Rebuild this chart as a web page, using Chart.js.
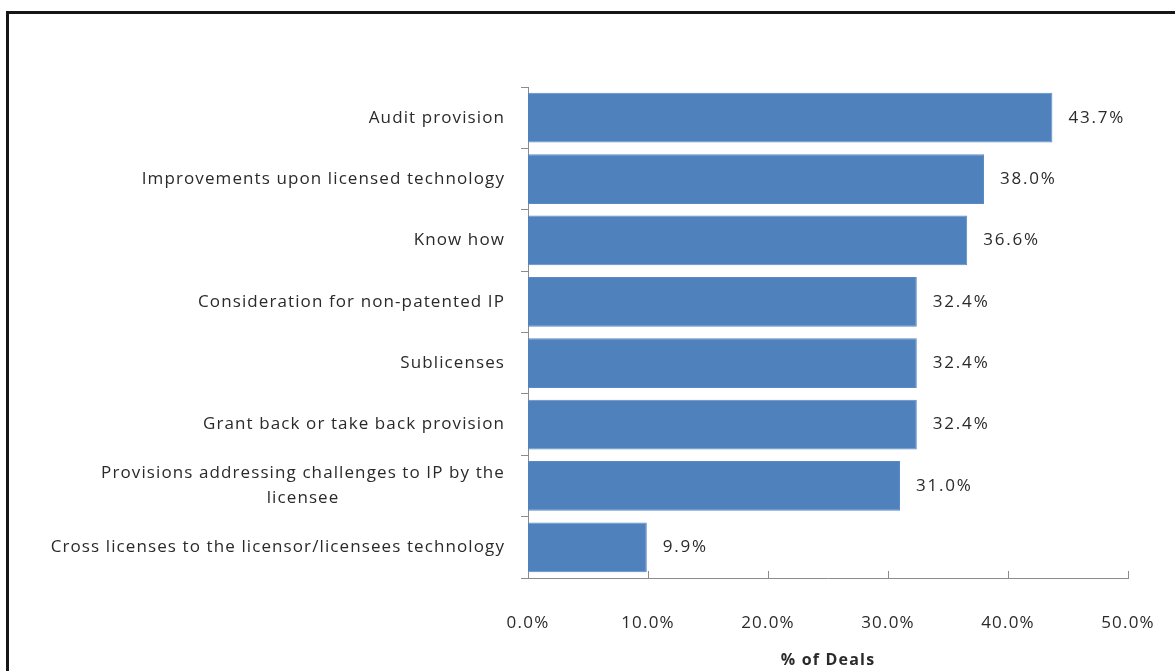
<!DOCTYPE html>
<html>
<head>
<meta charset="utf-8">
<script src="https://cdn.jsdelivr.net/npm/chart.js@4.4.1/dist/chart.umd.min.js"></script>
<style>
  html, body { margin: 0; padding: 0; background: #fff; }
  #wrap { position: relative; width: 1175px; height: 671px; overflow: hidden; }
  #frame { position: absolute; left: 6px; top: 11px; width: 1300px; height: 800px;
           border: 3px solid #161616; pointer-events: none; }
</style>
</head>
<body>
<div id="wrap">
  <canvas id="deals" width="1175" height="671"></canvas>
  <div id="frame"></div>
</div>
<script>
const categories = [
  'Audit provision',
  'Improvements upon licensed technology',
  'Know how',
  'Consideration for non-patented IP',
  'Sublicenses',
  'Grant back or take back provision',
  ['Provisions addressing challenges to IP by the', 'licensee'],
  'Cross licenses to the licensor/licensees technology'
];
const dealShare = [43.7, 38.0, 36.6, 32.4, 32.4, 32.4, 31.0, 9.9];
const xTicks = [0, 10, 20, 30, 40, 50];

const textColor = '#2a2a2a';
const labelFont = '500 17px "Open Sans"';

// the source text is wide, so space all canvas text out a little
const spacing = {
  id: 'spacing',
  beforeDraw(chart) { chart.ctx.letterSpacing = '1.2px'; }
};

// category labels, multi-line ones centred on their own widest line (Excel style)
const categoryLabels = {
  id: 'categoryLabels',
  afterDraw(chart) {
    const ctx = chart.ctx;
    const y = chart.scales.y;
    const right = y.right - 23;
    ctx.save();
    ctx.font = labelFont;
    ctx.letterSpacing = '1.1px';
    ctx.fillStyle = textColor;
    ctx.textAlign = 'center';
    ctx.textBaseline = 'middle';
    categories.forEach((lab, i) => {
      const lines = Array.isArray(lab) ? lab : [lab];
      const w = Math.max(...lines.map(l => ctx.measureText(l).width));
      const cy = y.getPixelForValue(i);
      const lh = 25;
      lines.forEach((l, j) => {
        ctx.fillText(l, right - w / 2, cy + (j - (lines.length - 1) / 2) * lh);
      });
    });
    ctx.restore();
  }
};

// value labels at the end of the bars + inward tick marks on x axis
const barValues = {
  id: 'barValues',
  afterDatasetsDraw(chart) {
    const ctx = chart.ctx;
    const meta = chart.getDatasetMeta(0);
    ctx.save();
    ctx.font = labelFont;
    ctx.letterSpacing = '1.8px';
    ctx.fillStyle = textColor;
    ctx.textAlign = 'left';
    ctx.textBaseline = 'middle';
    meta.data.forEach((bar, i) => {
      ctx.fillText(dealShare[i].toFixed(1) + '%', bar.x + 16, bar.y);
    });
    const x = chart.scales.x;
    ctx.strokeStyle = '#8c8c8c';
    ctx.lineWidth = 1;
    xTicks.forEach(v => {
      const px = Math.round(x.getPixelForValue(v)) + 0.5;
      ctx.beginPath();
      ctx.moveTo(px, x.top - 7);
      ctx.lineTo(px, x.top);
      ctx.stroke();
    });
    ctx.restore();
  }
};

new Chart(document.getElementById('deals'), {
  type: 'bar',
  data: {
    labels: categories,
    datasets: [{
      data: dealShare,
      backgroundColor: '#4f81bd',
      borderColor: '#5a8ac6',
      borderWidth: 1,
      barPercentage: 0.81,
      categoryPercentage: 1
    }]
  },
  options: {
    indexAxis: 'y',
    responsive: false,
    animation: false,
    layout: { padding: { left: 0, top: 87, right: 47, bottom: 0 } },
    plugins: { legend: { display: false }, tooltip: { enabled: false } },
    scales: {
      y: {
        afterFit(scale) { scale.width = 528; },
        ticks: { display: false },
        grid: { display: true, drawOnChartArea: false, offset: true, tickLength: 7, color: '#8c8c8c' },
        border: { color: '#8c8c8c' }
      },
      x: {
        min: 0,
        max: 50,
        afterFit(scale) {
          scale.height = 93;
          scale.paddingLeft = 0;
          scale.paddingRight = 0;
        },
        afterBuildTicks(scale) { scale.ticks = xTicks.map(v => ({ value: v })); },
        ticks: {
          padding: 35,
          color: textColor,
          font: { family: 'Open Sans', size: 17, weight: 500 },
          callback: v => v.toFixed(1) + '%'
        },
        grid: { display: false, drawOnChartArea: false, tickLength: 0 },
        border: { display: true, color: '#8c8c8c' },
        title: {
          display: true,
          text: '% of Deals',
          color: textColor,
          font: { family: 'Open Sans', size: 16, weight: 'bold' },
          padding: { top: 4, bottom: 1 }
        }
      }
    }
  },
  plugins: [spacing, categoryLabels, barValues]
});
</script>
</body>
</html>
